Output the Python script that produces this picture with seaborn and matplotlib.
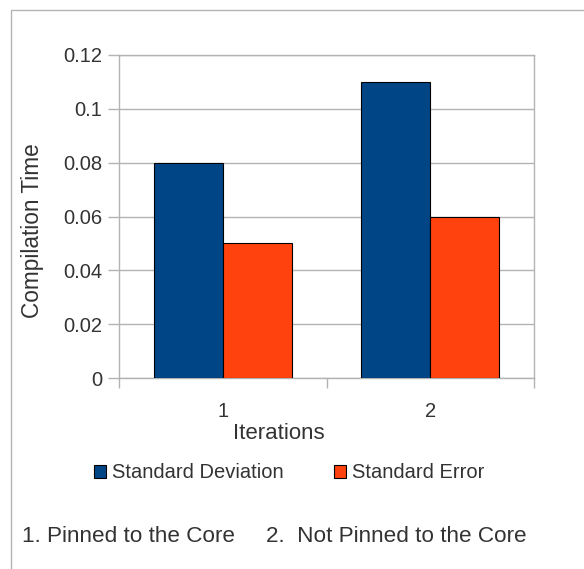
import matplotlib
matplotlib.use("Agg")
import matplotlib.pyplot as plt
import seaborn as sns
import pandas as pd
from matplotlib.patches import Rectangle
from matplotlib.ticker import FixedLocator

iterations = ["1", "2"]
std_dev = [0.08, 0.11]
std_err = [0.05, 0.06]
series_names = ["Standard Deviation", "Standard Error"]
y_ticks = [0, 0.02, 0.04, 0.06, 0.08, 0.1, 0.12]
y_tick_labels = ["0", "0.02", "0.04", "0.06", "0.08", "0.1", "0.12"]
footnotes = ["1. Pinned to the Core", "2.  Not Pinned to the Core"]

df = pd.DataFrame({
    "Iterations": iterations * 2,
    "value": std_dev + std_err,
    "series": [series_names[0]] * 2 + [series_names[1]] * 2,
})

sns.set_style("white")
plt.rcParams["font.family"] = ["Liberation Sans", "DejaVu Sans"]

fig = plt.figure(figsize=(5.84, 5.69), dpi=100)
ax = fig.add_axes([119 / 584, 1 - 378 / 569, 415 / 584, 323 / 569])

# outer frame like the office-suite chart border
fig.patches.append(Rectangle((11 / 584, -0.1), 1.2, 1 - 10 / 569 + 0.1,
                             transform=fig.transFigure, fill=False,
                             edgecolor="#b3b3b3", linewidth=1.0))

sns.barplot(data=df, x="Iterations", y="value", hue="series",
            palette=["#004586", "#ff420e"], saturation=1, width=2 / 3,
            edgecolor="black", linewidth=0.8, ax=ax, zorder=3)

grey = "#b3b3b3"
ax.set_ylim(0, 0.12)
ax.set_xlim(-0.5, 1.5)
ax.set_yticks(y_ticks)
ax.set_yticklabels(y_tick_labels)
ax.yaxis.grid(True, color=grey, linewidth=1.0, zorder=0)
ax.set_axisbelow(True)
for s in ax.spines.values():
    s.set_color(grey)
    s.set_linewidth(1.0)

ax.tick_params(axis="y", length=8, width=1.0, color=grey, pad=4,
               labelsize=14.5, labelcolor="#333333", left=True)
ax.tick_params(axis="x", which="major", length=0, pad=17,
               labelsize=14.5, labelcolor="#333333")
ax.xaxis.set_minor_locator(FixedLocator([-0.5, 0.5, 1.5]))
ax.tick_params(axis="x", which="minor", length=7, width=1.0, color=grey,
               bottom=True)

ax.set_xlabel("Iterations", fontsize=16, color="#333333")
ax.set_ylabel("Compilation Time", fontsize=16.3, color="#333333")
ax.xaxis.set_label_coords(0.385, -0.14)
ax.yaxis.set_label_coords(-0.18, 0.455)

handles, labels = ax.get_legend_handles_labels()
ax.get_legend().remove()
fig.legend(handles, labels, loc="center", bbox_to_anchor=(289 / 584, 1 - 473 / 569),
           ncol=2, frameon=False, fontsize=14.5, handlelength=0.6,
           handleheight=0.6, handletextpad=0.3, columnspacing=2.5,
           labelcolor="#333333")

fig.text(22 / 584, 1 - 537 / 569, footnotes[0], fontsize=16.2, va="center",
         color="#333333")
fig.text(266 / 584, 1 - 537 / 569, footnotes[1], fontsize=16.2, va="center",
         color="#333333")

fig.savefig("out.png", dpi=100)
